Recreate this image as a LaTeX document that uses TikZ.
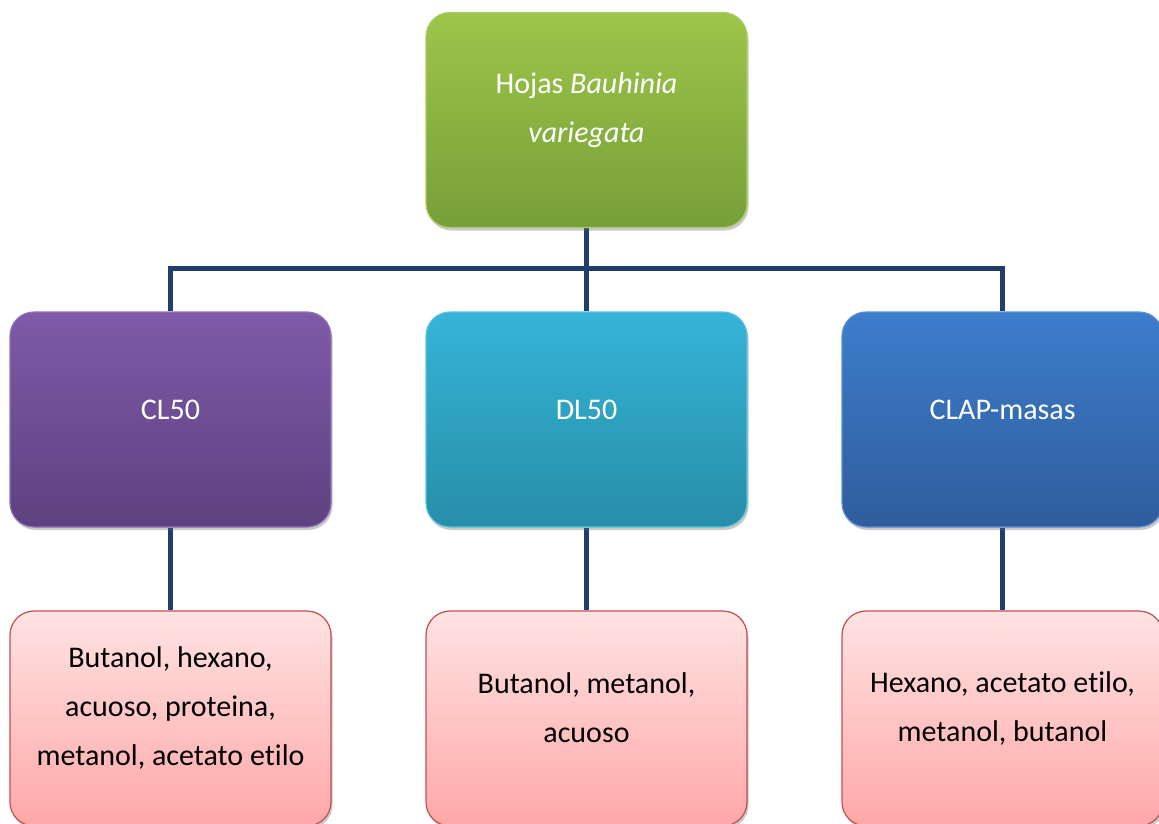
\documentclass[tikz,border=0pt]{standalone}
\usepackage{fontspec}
\setmainfont{Carlito}[Ligatures=NoCommon]
\usetikzlibrary{shadows,backgrounds}
\definecolor{conncol}{HTML}{1F3E6E}
\definecolor{gtop}{HTML}{9DC54A}
\definecolor{gbot}{HTML}{779F38}
\definecolor{gbor}{HTML}{A9CC66}
\definecolor{ptop}{HTML}{7E5AA8}
\definecolor{pbot}{HTML}{5E4180}
\definecolor{pbor}{HTML}{8E72B4}
\definecolor{ttop}{HTML}{36B4D7}
\definecolor{tbot}{HTML}{278EA8}
\definecolor{tbor}{HTML}{5AC2DE}
\definecolor{btop}{HTML}{3D7DCC}
\definecolor{bbot}{HTML}{2F5D9C}
\definecolor{bbor}{HTML}{5A90D4}
\definecolor{rtop}{HTML}{FFE3E3}
\definecolor{rbot}{HTML}{FFA7A7}
\definecolor{rbor}{HTML}{C0504D}
\tikzset{
  box/.style={rectangle, rounded corners=24pt, minimum width=321pt, minimum height=215pt, inner sep=0pt, line width=1.2pt,
    drop shadow={shadow xshift=1.5pt, shadow yshift=-3pt, opacity=0.35, fill=black!60}},
  greenbox/.style={box, draw=gbor, top color=gtop, bottom color=gbot},
  purplebox/.style={box, draw=pbor, top color=ptop, bottom color=pbot},
  tealbox/.style={box, draw=tbor, top color=ttop, bottom color=tbot},
  bluebox/.style={box, draw=bbor, top color=btop, bottom color=bbot},
  pinkbox/.style={box, draw=rbor, top color=rtop, bottom color=rbot},
  wtext/.style={text=white, font=\fontsize{30}{49}\selectfont, align=center, inner sep=0pt},
  btext/.style={text=black, font=\fontsize{30}{49}\selectfont, align=center, inner sep=0pt},
  conn/.style={draw=conncol, line width=5pt},
}
\begin{document}
\begin{tikzpicture}[x=1pt,y=-1pt]
\useasboundingbox (0,0) rectangle (1159,823);
\clip (0,0) rectangle (1159,823);
\node[greenbox] (top) at (586.5,120) {};
\node[purplebox] (cl) at (170.5,419.5) {};
\node[tealbox] (dl) at (586.5,419.5) {};
\node[bluebox] (clap) at (1002.5,419.5) {};
\node[pinkbox] (b1) at (170.5,718.5) {};
\node[pinkbox] (b2) at (586.5,718.5) {};
\node[pinkbox] (b3) at (1002.5,718.5) {};
\coordinate (hub) at (586.5,268);
\begin{scope}[on background layer]
\draw[conn] (top.south) -- (dl.north);
\draw[conn] (cl.north) |- (hub) -| (clap.north);
\draw[conn] (cl.south) -- (b1.north);
\draw[conn] (dl.south) -- (b2.north);
\draw[conn] (clap.south) -- (b3.north);
\end{scope}
\node[wtext] (ttop) at (586.5,110) {Hojas \textit{Bauhinia}\\\textit{variegata}};
\node[wtext] (tcl) at (170.5,410) {CL50};
\node[wtext] (tdl) at (586.5,410) {DL50};
\node[wtext] (tclap) at (1002.5,410) {CLAP-masas};
\node[btext] (tb1) at (170.5,708) {Butanol, hexano,\\acuoso, proteina,\\metanol, acetato etilo};
\node[btext] (tb2) at (586.5,708) {Butanol, metanol,\\acuoso};
\node[btext] (tb3) at (1002.5,708) {Hexano, acetato etilo,\\metanol, butanol};
\end{tikzpicture}
\end{document}
